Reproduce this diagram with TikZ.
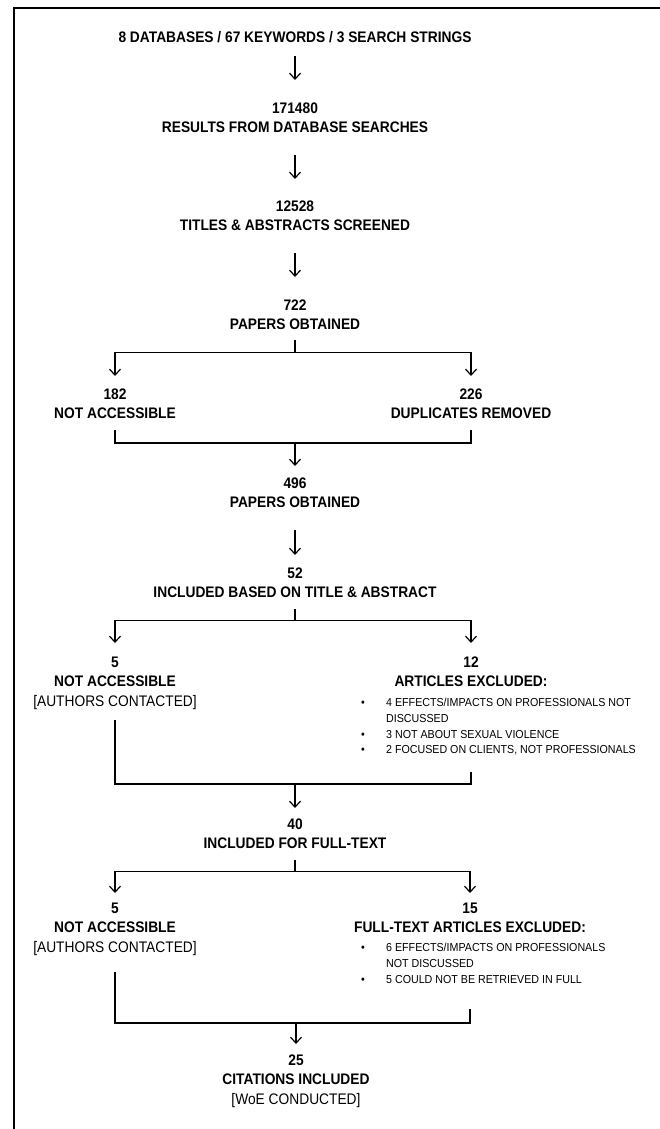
\documentclass[tikz,border=0pt]{standalone}
\usepackage{fontspec}
\setmainfont{Liberation Sans}[FakeStretch = 0.9]
\newfontfamily\noteFamily{Liberation Sans}[FakeStretch = 0.92]
\usetikzlibrary{arrows.meta}
\tikzstyle{flowchart} = [x = 1pt, y = -1pt]
\tikzstyle{frameLine} = [line width = 2pt]
\tikzstyle{stepLine} = [line width = 1.2pt]
\tikzstyle{stepArrowStyle} = [stepLine, -{Straight Barb[length = 6pt, width = 11pt]}]
\newcommand{\stepFont}{\fontsize{15.3}{19.5}\selectfont\bfseries}
\newcommand{\noteFont}{\noteFamily\fontsize{11.6}{15.7}\selectfont}
\tikzstyle{stepText} = [align = center, inner sep = 0pt, anchor = north, font = \stepFont]
\tikzstyle{noteText} = [align = left, inner sep = 0pt, anchor = north west, font = \noteFont]
\newcommand{\bulletItem}{\makebox[25pt][l]{\textbullet}}
\newcommand{\bulletGap}{\hspace*{25pt}}
\newcommand{\stepArrow}[4]{\draw [stepArrowStyle, shorten <= #3, shorten >= #4] (#1.south) -- (#2.north);}
\newcommand{\splitArrows}[6]{
  \draw [stepLine, shorten <= #4] (#1.south) -- ++(0,#5) coordinate (#1Split);
  \draw [stepArrowStyle, shorten >= #6] (#1Split) -| (#2.north);
  \draw [stepArrowStyle, shorten >= #6] (#1Split) -| (#3.north);
}

\begin{document}
\begin{tikzpicture}[flowchart]
  \useasboundingbox (0,0) rectangle (660,1129);
  \draw [frameLine] (14,1129) -- (14,8) -- (660,8);

  % main column
  \node [stepText] (search) at (295,31.5) {8 DATABASES / 67 KEYWORDS / 3 SEARCH STRINGS};
  \node [stepText] (results) at (295,102.5) {171480\\RESULTS FROM DATABASE SEARCHES};
  \node [stepText] (screened) at (295,200.5) {12528\\TITLES \& ABSTRACTS SCREENED};
  \node [stepText] (papersA) at (295,299.5) {722\\PAPERS OBTAINED};
  \node [stepText] (notAccA) at (115,388.5) {182\\NOT ACCESSIBLE};
  \node [stepText] (dupA) at (471,388.5) {226\\DUPLICATES REMOVED};
  \node [stepText] (papersB) at (295,477.5) {496\\PAPERS OBTAINED};
  \node [stepText] (inclTA) at (295,567.5) {52\\INCLUDED BASED ON TITLE \& ABSTRACT};

  \node [stepText] (notAccB) at (115,656.5) {5\\NOT ACCESSIBLE\\\mdseries[AUTHORS CONTACTED]};
  \node [stepText] (exclHeadB) at (471,656.5) {12\\ARTICLES EXCLUDED:};
  \node [noteText] (exclListB) at (361,698) {\bulletItem 4 EFFECTS/IMPACTS ON PROFESSIONALS NOT\\
    \bulletGap DISCUSSED\\
    \bulletItem 3 NOT ABOUT SEXUAL VIOLENCE\\
    \bulletItem 2 FOCUSED ON CLIENTS, NOT PROFESSIONALS};
  \node [stepText] (inclFT) at (295,818.5) {40\\INCLUDED FOR FULL-TEXT};

  \node [stepText] (notAccC) at (115,902.5) {5\\NOT ACCESSIBLE\\\mdseries[AUTHORS CONTACTED]};
  \node [stepText] (exclHeadC) at (470,902.5) {15\\FULL-TEXT ARTICLES EXCLUDED:};
  \node [noteText] (exclListC) at (361,943) {\bulletItem 6 EFFECTS/IMPACTS ON PROFESSIONALS\\
    \bulletGap NOT DISCUSSED\\
    \bulletItem 5 COULD NOT BE RETRIEVED IN FULL};
  \node [stepText] (citations) at (296,1054.5) {25\\CITATIONS INCLUDED\\\mdseries[WoE CONDUCTED]};

  % straight steps
  \stepArrow{search}{results}{12.5}{22.5}
  \stepArrow{results}{screened}{22}{21.5}
  \stepArrow{screened}{papersA}{22}{22.5}
  \stepArrow{papersB}{inclTA}{22}{12.5}

  % splits
  \splitArrows{papersA}{notAccA}{dupA}{10}{22}{12.5}
  \splitArrows{inclTA}{notAccB}{exclHeadB}{11}{22}{13.5}
  \splitArrows{inclFT}{notAccC}{exclHeadC}{11}{22}{9.5}

  % merges
  \coordinate (joinA) at (295,443);
  \draw [stepLine] ([yshift=-11pt]notAccA.south) |- (joinA) -| ([yshift=-11pt]dupA.south);
  \draw [stepArrowStyle, shorten >= 11.5] (joinA) -- (papersB.north);

  \coordinate (joinB) at (295,784);
  \path (exclHeadB |- exclListB.south) ++(0,17) coordinate (exclFootB);
  \draw [stepLine] ([yshift=-10pt]notAccB.south) |- (joinB) -| (exclFootB);
  \draw [stepArrowStyle, shorten >= 10.5] (joinB) -- (inclFT.north);

  \coordinate (joinC) at (296,1023);
  \path (exclHeadC |- exclListC.south) ++(0,26) coordinate (exclFootC);
  \draw [stepLine] ([yshift=-16pt]notAccC.south) |- (joinC) -| (exclFootC);
  \draw [stepArrowStyle, shorten >= 10.5] (joinC) -- (citations.north);
\end{tikzpicture}
\end{document}
